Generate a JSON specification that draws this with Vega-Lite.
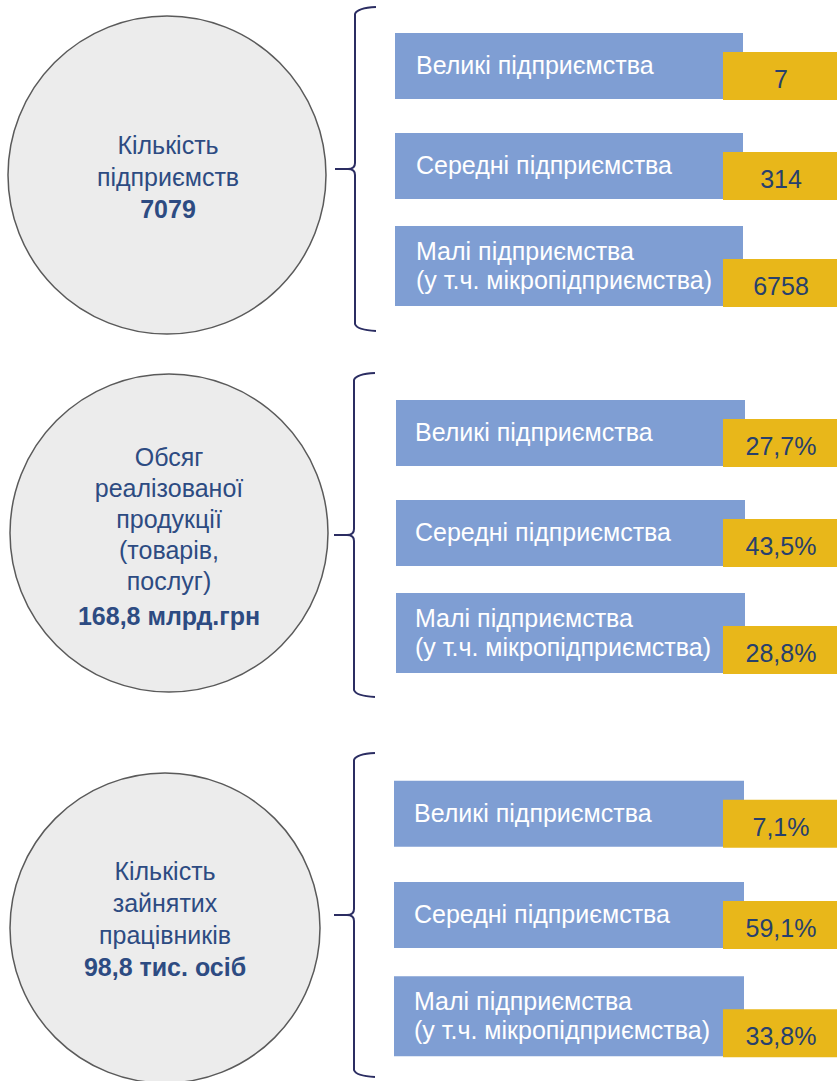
{
  "$schema": "https://vega.github.io/schema/vega-lite/v6.json",
  "padding": 0,
  "spacing": 0,
  "bounds": "flush",
  "background": "white",
  "config": {
    "view": {"stroke": null},
    "locale": {"number": {"decimal": ",", "thousands": " ", "grouping": [3], "currency": ["", ""]}}
  },
  "datasets": {
    "sections": [
      {"section": "1", "title": "Кількість\nпідприємств", "total": "7079"},
      {"section": "2", "title": "Обсяг\nреалізованої\nпродукції\n(товарів,\nпослуг)", "total": "168,8 млрд.грн"},
      {"section": "3", "title": "Кількість\nзайнятих\nпрацівників", "total": "98,8 тис. осіб"}
    ],
    "items": [
      {"section": "1", "size": "Великі", "label": "Великі підприємства", "value": 7},
      {"section": "1", "size": "Середні", "label": "Середні підприємства", "value": 314},
      {"section": "1", "size": "Малі", "label": "Малі підприємства\n(у т.ч. мікропідприємства)", "value": 6758},
      {"section": "2", "size": "Великі", "label": "Великі підприємства", "value": 0.277},
      {"section": "2", "size": "Середні", "label": "Середні підприємства", "value": 0.435},
      {"section": "2", "size": "Малі", "label": "Малі підприємства\n(у т.ч. мікропідприємства)", "value": 0.288},
      {"section": "3", "size": "Великі", "label": "Великі підприємства", "value": 0.071},
      {"section": "3", "size": "Середні", "label": "Середні підприємства", "value": 0.591},
      {"section": "3", "size": "Малі", "label": "Малі підприємства\n(у т.ч. мікропідприємства)", "value": 0.338}
    ]
  },
  "vconcat": [
    {
      "width": 837, "height": 367,
      "layer": [
        {"data": {"name": "sections"}, "transform": [{"filter": "datum.section === '1'"}],
         "mark": {"type": "point", "shape": "circle", "filled": true, "color": "#ececec", "stroke": "#5a5a5a", "strokeWidth": 1.5, "opacity": 1, "size": 101124, "yOffset": 9},
         "encoding": {"x": {"datum": 167, "type": "quantitative", "scale": {"domain": [0, 837], "nice": false, "zero": false}, "axis": null},
                      "y": {"datum": "Середні", "type": "nominal", "scale": {"domain": ["Великі", "Середні", "Малі"], "range": [16, 316], "paddingInner": 0, "paddingOuter": 0}, "axis": null}}},
        {"data": {"name": "sections"}, "transform": [{"filter": "datum.section === '1'"}],
         "mark": {"type": "point", "shape": "M 0.41 -1.62 Q 0.22 -1.61 0.2 -1.55 L 0.2 -0.06 Q 0.2 0 0.13 0 L 0 0 M 0.13 0 Q 0.2 0 0.2 0.06 L 0.2 1.55 Q 0.22 1.61 0.41 1.62", "filled": false, "color": "#2b2d62", "strokeWidth": 2, "opacity": 1, "size": 40000, "yOffset": 3},
         "encoding": {"x": {"datum": 335, "type": "quantitative", "axis": null}, "y": {"datum": "Середні", "type": "nominal", "axis": null}}},
        {"data": {"name": "sections"}, "transform": [{"filter": "datum.section === '1'"}],
         "mark": {"type": "text", "align": "center", "baseline": "alphabetic", "color": "#2d4b82", "font": "Liberation Sans", "fontSize": 25, "lineBreak": "\n", "lineHeight": 32, "yOffset": -12},
         "encoding": {"x": {"datum": 168, "type": "quantitative", "axis": null}, "y": {"datum": "Середні", "type": "nominal", "axis": null}, "text": {"field": "title"}}},
        {"data": {"name": "sections"}, "transform": [{"filter": "datum.section === '1'"}],
         "mark": {"type": "text", "align": "center", "baseline": "alphabetic", "color": "#2d4b82", "font": "Liberation Sans", "fontSize": 25, "fontWeight": "bold", "yOffset": 52},
         "encoding": {"x": {"datum": 168, "type": "quantitative", "axis": null}, "y": {"datum": "Середні", "type": "nominal", "axis": null}, "text": {"field": "total"}}},
        {"data": {"name": "items"}, "transform": [{"filter": "datum.section === '1'"}],
         "mark": {"type": "bar", "color": "#7f9ed3"},
         "encoding": {"x": {"datum": 395, "type": "quantitative", "axis": null}, "x2": {"datum": 743},
                      "y": {"field": "size", "type": "nominal", "axis": null},
                      "size": {"condition": {"test": "datum.size === 'Малі'", "value": 80}, "value": 66}}},
        {"data": {"name": "items"}, "transform": [{"filter": "datum.section === '1'"}],
         "mark": {"type": "bar", "color": "#e8b71a", "yOffset": {"expr": "datum.size === 'Малі' ? 17 : 10"}},
         "encoding": {"x": {"datum": 723, "type": "quantitative", "axis": null}, "x2": {"datum": 837},
                      "y": {"field": "size", "type": "nominal", "axis": null},
                      "size": {"value": 48}}},
        {"data": {"name": "items"}, "transform": [{"filter": "datum.section === '1'"}],
         "mark": {"type": "text", "align": "left", "baseline": "middle", "color": "white", "font": "Liberation Sans", "fontSize": 25, "lineBreak": "\n", "lineHeight": 29, "yOffset": {"expr": "datum.size === 'Малі' ? -14 : 0"}},
         "encoding": {"x": {"datum": 416, "type": "quantitative", "axis": null}, "y": {"field": "size", "type": "nominal", "axis": null}, "text": {"field": "label"}}},
        {"data": {"name": "items"}, "transform": [{"filter": "datum.section === '1'"}],
         "mark": {"type": "text", "align": "center", "baseline": "middle", "color": "#27406d", "font": "Liberation Sans", "fontSize": 25, "yOffset": {"expr": "datum.size === 'Малі' ? 21 : 14"}},
         "encoding": {"x": {"datum": 781, "type": "quantitative", "axis": null}, "y": {"field": "size", "type": "nominal", "axis": null}, "text": {"field": "value", "type": "quantitative", "format": "d"}}}
      ]
    },
    {
      "width": 837, "height": 380,
      "layer": [
        {"data": {"name": "sections"}, "transform": [{"filter": "datum.section === '2'"}],
         "mark": {"type": "point", "shape": "circle", "filled": true, "color": "#ececec", "stroke": "#5a5a5a", "strokeWidth": 1.5, "opacity": 1, "size": 101124, "yOffset": 0},
         "encoding": {"x": {"datum": 169, "type": "quantitative", "scale": {"domain": [0, 837], "nice": false, "zero": false}, "axis": null},
                      "y": {"datum": "Середні", "type": "nominal", "scale": {"domain": ["Великі", "Середні", "Малі"], "range": [16, 316], "paddingInner": 0, "paddingOuter": 0}, "axis": null}}},
        {"data": {"name": "sections"}, "transform": [{"filter": "datum.section === '2'"}],
         "mark": {"type": "point", "shape": "M 0.41 -1.62 Q 0.22 -1.61 0.2 -1.55 L 0.2 -0.06 Q 0.2 0 0.13 0 L 0 0 M 0.13 0 Q 0.2 0 0.2 0.06 L 0.2 1.55 Q 0.22 1.61 0.41 1.62", "filled": false, "color": "#2b2d62", "strokeWidth": 2, "opacity": 1, "size": 40000, "yOffset": 2},
         "encoding": {"x": {"datum": 334, "type": "quantitative", "axis": null}, "y": {"datum": "Середні", "type": "nominal", "axis": null}}},
        {"data": {"name": "sections"}, "transform": [{"filter": "datum.section === '2'"}],
         "mark": {"type": "text", "align": "center", "baseline": "alphabetic", "color": "#2d4b82", "font": "Liberation Sans", "fontSize": 25, "lineBreak": "\n", "lineHeight": 31, "yOffset": -67},
         "encoding": {"x": {"datum": 169, "type": "quantitative", "axis": null}, "y": {"datum": "Середні", "type": "nominal", "axis": null}, "text": {"field": "title"}}},
        {"data": {"name": "sections"}, "transform": [{"filter": "datum.section === '2'"}],
         "mark": {"type": "text", "align": "center", "baseline": "alphabetic", "color": "#2d4b82", "font": "Liberation Sans", "fontSize": 25, "fontWeight": "bold", "yOffset": 92},
         "encoding": {"x": {"datum": 169, "type": "quantitative", "axis": null}, "y": {"datum": "Середні", "type": "nominal", "axis": null}, "text": {"field": "total"}}},
        {"data": {"name": "items"}, "transform": [{"filter": "datum.section === '2'"}],
         "mark": {"type": "bar", "color": "#7f9ed3"},
         "encoding": {"x": {"datum": 396, "type": "quantitative", "axis": null}, "x2": {"datum": 745},
                      "y": {"field": "size", "type": "nominal", "axis": null},
                      "size": {"condition": {"test": "datum.size === 'Малі'", "value": 80}, "value": 66}}},
        {"data": {"name": "items"}, "transform": [{"filter": "datum.section === '2'"}],
         "mark": {"type": "bar", "color": "#e8b71a", "yOffset": {"expr": "datum.size === 'Малі' ? 17 : 10"}},
         "encoding": {"x": {"datum": 723, "type": "quantitative", "axis": null}, "x2": {"datum": 837},
                      "y": {"field": "size", "type": "nominal", "axis": null},
                      "size": {"value": 48}}},
        {"data": {"name": "items"}, "transform": [{"filter": "datum.section === '2'"}],
         "mark": {"type": "text", "align": "left", "baseline": "middle", "color": "white", "font": "Liberation Sans", "fontSize": 25, "lineBreak": "\n", "lineHeight": 29, "yOffset": {"expr": "datum.size === 'Малі' ? -14 : 0"}},
         "encoding": {"x": {"datum": 415, "type": "quantitative", "axis": null}, "y": {"field": "size", "type": "nominal", "axis": null}, "text": {"field": "label"}}},
        {"data": {"name": "items"}, "transform": [{"filter": "datum.section === '2'"}],
         "mark": {"type": "text", "align": "center", "baseline": "middle", "color": "#27406d", "font": "Liberation Sans", "fontSize": 25, "yOffset": {"expr": "datum.size === 'Малі' ? 21 : 14"}},
         "encoding": {"x": {"datum": 781, "type": "quantitative", "axis": null}, "y": {"field": "size", "type": "nominal", "axis": null}, "text": {"field": "value", "type": "quantitative", "format": ".1%"}}}
      ]
    },
    {
      "width": 837, "height": 334,
      "layer": [
        {"data": {"name": "sections"}, "transform": [{"filter": "datum.section === '3'"}],
         "mark": {"type": "point", "shape": "circle", "filled": true, "color": "#ececec", "stroke": "#5a5a5a", "strokeWidth": 1.5, "opacity": 1, "size": 96100, "yOffset": 13},
         "encoding": {"x": {"datum": 165, "type": "quantitative", "scale": {"domain": [0, 837], "nice": false, "zero": false}, "axis": null},
                      "y": {"datum": "Середні", "type": "nominal", "scale": {"domain": ["Великі", "Середні", "Малі"], "range": [16, 320], "paddingInner": 0, "paddingOuter": 0}, "axis": null}}},
        {"data": {"name": "sections"}, "transform": [{"filter": "datum.section === '3'"}],
         "mark": {"type": "point", "shape": "M 0.41 -1.62 Q 0.22 -1.61 0.2 -1.55 L 0.2 -0.06 Q 0.2 0 0.13 0 L 0 0 M 0.13 0 Q 0.2 0 0.2 0.06 L 0.2 1.55 Q 0.22 1.61 0.41 1.62", "filled": false, "color": "#2b2d62", "strokeWidth": 2, "opacity": 1, "size": 40000, "yOffset": 0},
         "encoding": {"x": {"datum": 334, "type": "quantitative", "axis": null}, "y": {"datum": "Середні", "type": "nominal", "axis": null}}},
        {"data": {"name": "sections"}, "transform": [{"filter": "datum.section === '3'"}],
         "mark": {"type": "text", "align": "center", "baseline": "alphabetic", "color": "#2d4b82", "font": "Liberation Sans", "fontSize": 25, "lineBreak": "\n", "lineHeight": 32, "yOffset": -35},
         "encoding": {"x": {"datum": 165, "type": "quantitative", "axis": null}, "y": {"datum": "Середні", "type": "nominal", "axis": null}, "text": {"field": "title"}}},
        {"data": {"name": "sections"}, "transform": [{"filter": "datum.section === '3'"}],
         "mark": {"type": "text", "align": "center", "baseline": "alphabetic", "color": "#2d4b82", "font": "Liberation Sans", "fontSize": 25, "fontWeight": "bold", "yOffset": 61},
         "encoding": {"x": {"datum": 165, "type": "quantitative", "axis": null}, "y": {"datum": "Середні", "type": "nominal", "axis": null}, "text": {"field": "total"}}},
        {"data": {"name": "items"}, "transform": [{"filter": "datum.section === '3'"}],
         "mark": {"type": "bar", "color": "#7f9ed3"},
         "encoding": {"x": {"datum": 394, "type": "quantitative", "axis": null}, "x2": {"datum": 744},
                      "y": {"field": "size", "type": "nominal", "axis": null},
                      "size": {"condition": {"test": "datum.size === 'Малі'", "value": 80}, "value": 66}}},
        {"data": {"name": "items"}, "transform": [{"filter": "datum.section === '3'"}],
         "mark": {"type": "bar", "color": "#e8b71a", "yOffset": {"expr": "datum.size === 'Малі' ? 17 : 10"}},
         "encoding": {"x": {"datum": 723, "type": "quantitative", "axis": null}, "x2": {"datum": 837},
                      "y": {"field": "size", "type": "nominal", "axis": null},
                      "size": {"value": 48}}},
        {"data": {"name": "items"}, "transform": [{"filter": "datum.section === '3'"}],
         "mark": {"type": "text", "align": "left", "baseline": "middle", "color": "white", "font": "Liberation Sans", "fontSize": 25, "lineBreak": "\n", "lineHeight": 29, "yOffset": {"expr": "datum.size === 'Малі' ? -14 : 0"}},
         "encoding": {"x": {"datum": 414, "type": "quantitative", "axis": null}, "y": {"field": "size", "type": "nominal", "axis": null}, "text": {"field": "label"}}},
        {"data": {"name": "items"}, "transform": [{"filter": "datum.section === '3'"}],
         "mark": {"type": "text", "align": "center", "baseline": "middle", "color": "#27406d", "font": "Liberation Sans", "fontSize": 25, "yOffset": {"expr": "datum.size === 'Малі' ? 21 : 14"}},
         "encoding": {"x": {"datum": 781, "type": "quantitative", "axis": null}, "y": {"field": "size", "type": "nominal", "axis": null}, "text": {"field": "value", "type": "quantitative", "format": ".1%"}}}
      ]
    }
  ]
}
